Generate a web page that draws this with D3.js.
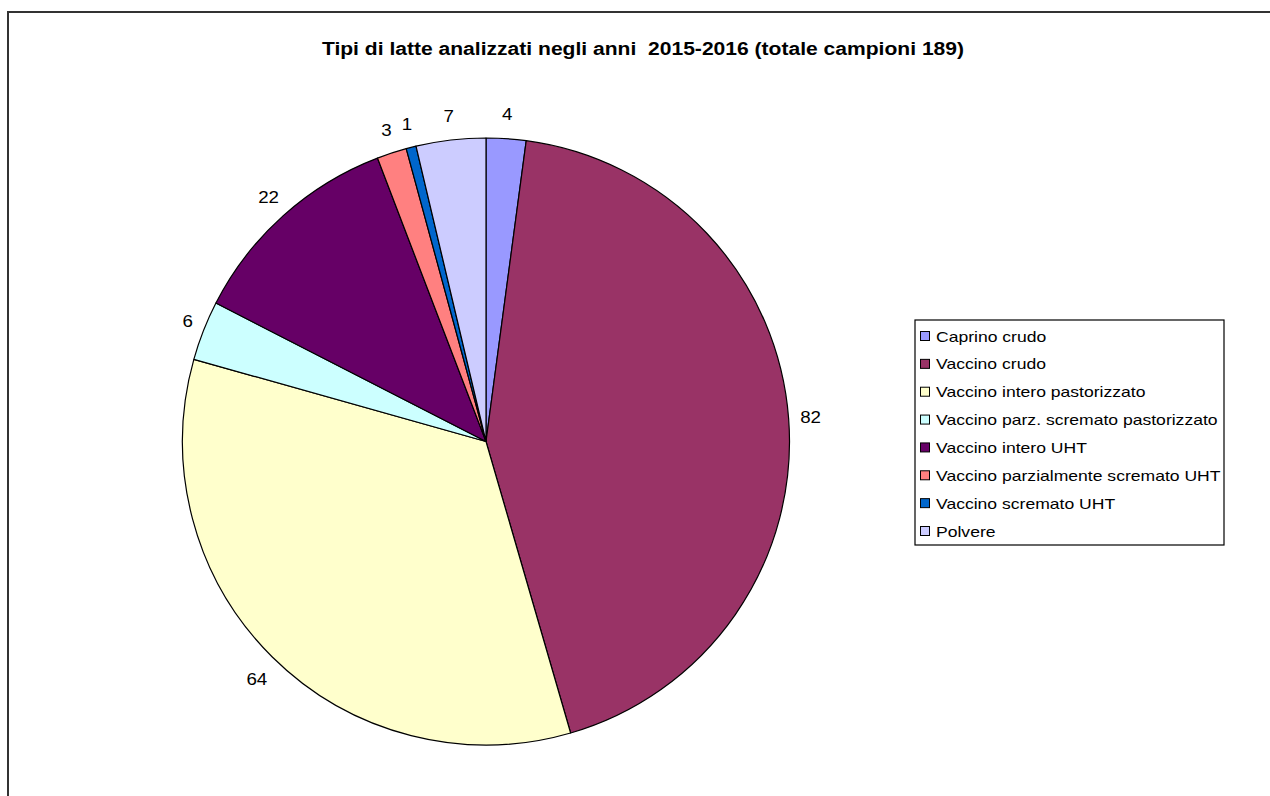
<!DOCTYPE html>
<html>
<head>
<meta charset="utf-8">
<script src="https://cdn.jsdelivr.net/npm/d3@7"></script>
<style>
  html, body { margin: 0; padding: 0; background: #fff; }
  svg { display: block; }
  text { font-family: "Liberation Sans", Arial, sans-serif; }
</style>
</head>
<body>
<svg id="chart" width="1270" height="796"></svg>
<script>
// Milk types analysed in 2015-2016
const categories = [
  "Caprino crudo",
  "Vaccino crudo",
  "Vaccino intero pastorizzato",
  "Vaccino parz. scremato pastorizzato",
  "Vaccino intero UHT",
  "Vaccino parzialmente scremato UHT",
  "Vaccino scremato UHT",
  "Polvere"
];
const values = [4, 82, 64, 6, 22, 3, 1, 7];
const colors = ["#9999FF", "#993366", "#FFFFCC", "#CCFFFF", "#660066", "#FF8080", "#0066CC", "#CCCCFF"];
const title = "Tipi di latte analizzati negli anni\u00A0 2015-2016 (totale campioni 189)";

// text in this chart is drawn slightly wide
const stretch = 1.17;
function widen(sel) {
  sel.each(function () {
    const len = this.getComputedTextLength();
    d3.select(this).attr("textLength", len * stretch).attr("lengthAdjust", "spacingAndGlyphs");
  });
}

const svg = d3.select("#chart");

// outer frame
svg.append("rect")
  .attr("x", 8).attr("y", 12)
  .attr("width", 1300).attr("height", 820)
  .attr("fill", "#fff")
  .attr("stroke", "#333").attr("stroke-width", 2);

// title
svg.append("text")
  .attr("x", 643).attr("y", 55)
  .attr("text-anchor", "middle")
  .attr("font-weight", "bold")
  .attr("font-size", 18)
  .attr("fill", "#000")
  .text(title)
  .call(widen);

// pie
const cx = 486, cy = 441.5, r = 303.5;
const data = categories.map((c, i) => ({ name: c, value: values[i], color: colors[i] }));
const pie = d3.pie().value(d => d.value).sort(null);
const arc = d3.arc().innerRadius(0).outerRadius(r);
const arcs = pie(data);

const g = svg.append("g").attr("transform", `translate(${cx},${cy})`);
g.selectAll("path")
  .data(arcs)
  .join("path")
  .attr("d", arc)
  .attr("fill", d => d.data.color)
  .attr("stroke", "#000")
  .attr("stroke-width", 1.2)
  .attr("stroke-linejoin", "round");

// value labels outside the slices
const labelR = r + 12;
g.selectAll("text.val")
  .data(arcs)
  .join("text")
  .attr("class", "val")
  .attr("font-size", 16)
  .attr("fill", "#000")
  .attr("text-anchor", "middle")
  .attr("dominant-baseline", "central")
  .attr("x", d => {
    const a = (d.startAngle + d.endAngle) / 2;
    const w = String(d.data.value).length * 10;
    return Math.sin(a) * labelR + Math.sin(a) * (w / 2);
  })
  .attr("y", d => {
    const a = (d.startAngle + d.endAngle) / 2;
    const c = Math.cos(a);
    return -c * labelR - c * 12 + (c < 0 ? -c * 8 : 0);
  })
  .text(d => d.data.value)
  .call(widen);

// legend
const lx = 915, ly = 320, lw = 309, lh = 225;
const legend = svg.append("g");
legend.append("rect")
  .attr("x", lx).attr("y", ly)
  .attr("width", lw).attr("height", lh)
  .attr("fill", "#fff")
  .attr("stroke", "#000").attr("stroke-width", 1.2);

const rowY = d3.scalePoint().domain(categories).range([336, 531]);
const items = legend.selectAll("g.item")
  .data(data)
  .join("g")
  .attr("class", "item")
  .attr("transform", d => `translate(0,${rowY(d.name)})`);
items.append("rect")
  .attr("x", 920.5).attr("y", -4.5)
  .attr("width", 9).attr("height", 9)
  .attr("fill", d => d.color)
  .attr("stroke", "#000").attr("stroke-width", 1);
items.append("text")
  .attr("x", 936).attr("y", 0)
  .attr("dominant-baseline", "central")
  .attr("font-size", 15)
  .attr("fill", "#000")
  .text(d => d.name)
  .call(widen);
</script>
</body>
</html>
